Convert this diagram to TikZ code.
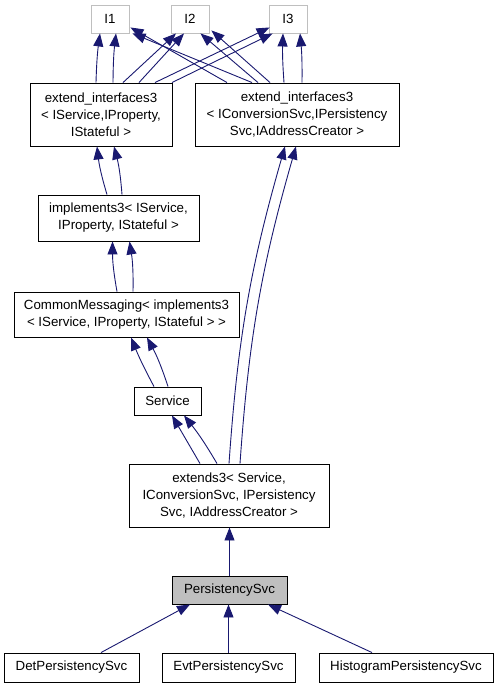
\documentclass[tikz,border=0pt]{standalone}
\usepackage{fontspec}
\setmainfont{Liberation Sans}
\usetikzlibrary{arrows.meta}
\definecolor{edgeblue}{HTML}{191970}
\definecolor{boxgray}{HTML}{BFBFBF}
\tikzset{
  classbox/.style={draw=black, line width=0.9pt, rectangle, align=center, inner sep=0pt,
    font=\fontsize{13.3}{17}\selectfont},
  ifacebox/.style={classbox, draw=boxgray},
  inherit/.style={draw=edgeblue, line width=0.9pt, -{Triangle[length=13pt,width=10pt]}}
}
\begin{document}
\begin{tikzpicture}[node distance=2cm, auto]

        % Fix the page size
        \useasboundingbox (0pt,0pt) rectangle (499pt,-688pt);

        % The documented class
        \node[classbox, fill=boxgray, minimum width=115pt, minimum height=28pt] (ps) at (229.5pt,-590pt) {PersistencySvc};

        % Derived classes
        \node[classbox, below of=ps, node distance=77.5pt, xshift=-158pt, minimum width=135pt, minimum height=29pt] (det) {DetPersistencySvc};
        \node[classbox, below of=ps, node distance=77.5pt, xshift=-1pt, minimum width=133pt, minimum height=29pt] (evt) {EvtPersistencySvc};
        \node[classbox, below of=ps, node distance=77.5pt, xshift=176.5pt, minimum width=174pt, minimum height=29pt] (hist) {HistogramPersistencySvc};

        % Base classes
        \node[classbox, above of=ps, node distance=94.5pt, xshift=-0.5pt, minimum width=200pt, minimum height=63pt] (ext3) {extends3< Service,\\IConversionSvc, IPersistency\\Svc, IAddressCreator >};
        \node[classbox, above of=ext3, node distance=94.5pt, xshift=-61.5pt, minimum width=67pt, minimum height=28pt] (svc) {Service};
        \node[classbox, above of=svc, node distance=86.5pt, xshift=-41pt, minimum width=225pt, minimum height=45pt] (cmsg) {CommonMessaging< implements3\\< IService, IProperty, IStateful > >};
        \node[classbox, above of=cmsg, node distance=96.5pt, xshift=-8pt, minimum width=161pt, minimum height=46pt] (impl) {implements3< IService,\\IProperty, IStateful >};
        \node[classbox, above of=impl, node distance=103.5pt, xshift=-17.5pt, minimum width=142pt, minimum height=63pt] (extL) {extend\_interfaces3\\< IService,IProperty,\\IStateful >};
        \node[classbox, right of=extL, node distance=196pt, minimum width=204pt, minimum height=63pt] (extR) {extend\_interfaces3\\< IConversionSvc,IPersistency\\Svc,IAddressCreator >};

        % Interfaces
        \node[ifacebox, above of=extL, node distance=95.5pt, xshift=9pt, minimum width=38pt, minimum height=28pt] (i1) {I1};
        \node[ifacebox, right of=i1, node distance=80pt, minimum width=38pt, minimum height=28pt] (i2) {I2};
        \node[ifacebox, right of=i2, node distance=98pt, minimum width=38pt, minimum height=28pt] (i3) {I3};

        % Left extend_interfaces3 to I1, I2, I3
        \draw[inherit] ([xshift=-5pt]extL.north) to[bend left=3] ([xshift=-10pt]i1.south);
        \draw[inherit] ([xshift=12pt]extL.north) to[bend left=3] ([xshift=6pt]i1.south);
        \draw[inherit] ([xshift=22pt]extL.north) -- ([xshift=-14pt]i2.south);
        \draw[inherit] ([xshift=38pt]extL.north) -- ([xshift=-6pt]i2.south);
        \draw[inherit] ([xshift=54pt]extL.north) -- ([xshift=1pt,yshift=6pt]i3.south west);
        \draw[inherit] ([xshift=71pt]extL.north) -- ([xshift=4pt]i3.south west);

        % Right extend_interfaces3 to I1, I2, I3
        \draw[inherit] ([xshift=-70pt]extR.north) -- ([xshift=1pt,yshift=6pt]i1.south east);
        \draw[inherit] ([xshift=-45pt]extR.north) -- ([xshift=3pt]i1.south east);
        \draw[inherit] ([xshift=-39pt]extR.north) -- ([xshift=-9pt]i2.south east);
        \draw[inherit] ([xshift=-27pt]extR.north) -- ([xshift=2pt,yshift=3pt]i2.south east);
        \draw[inherit] ([xshift=-13pt]extR.north) to[bend left=3] ([xshift=-5pt]i3.south);
        \draw[inherit] ([xshift=5pt]extR.north) to[bend right=3] ([xshift=12pt]i3.south);

        % implements3 chain
        \draw[inherit] ([xshift=-11.5pt]impl.north) to[bend left=5] ([xshift=-4pt]extL.south);
        \draw[inherit] ([xshift=3.5pt]impl.north) to[bend right=5] ([xshift=13pt]extL.south);
        \draw[inherit] ([xshift=-9.5pt]cmsg.north) to[bend left=5] ([xshift=-6pt]impl.south);
        \draw[inherit] ([xshift=6.5pt]cmsg.north) to[bend right=5] ([xshift=11pt]impl.south);
        \draw[inherit] ([xshift=-13.5pt]svc.north) to[bend left=3] ([xshift=4.5pt]cmsg.south);
        \draw[inherit] ([xshift=0.5pt]svc.north) to[bend right=5] ([xshift=20.5pt]cmsg.south);

        % extends3 to Service and to right extend_interfaces3
        \draw[inherit] ([xshift=-29pt]ext3.north) -- ([xshift=4.5pt]svc.south);
        \draw[inherit] ([xshift=-12pt]ext3.north) to[bend right=4] ([xshift=16.5pt]svc.south);
        \draw[inherit] (ext3.north) to[bend left=6] ([xshift=-12pt]extR.south);
        \draw[inherit] ([xshift=11pt]ext3.north) to[bend left=6] ([xshift=-1pt]extR.south);

        % PersistencySvc and its children
        \draw[inherit] (ps.north) -- (ps.north |- ext3.south);
        \draw[inherit] ([xshift=29.5pt]det.north) -- ([xshift=-39.5pt]ps.south);
        \draw[inherit] (evt.north) -- (evt.north |- ps.south);
        \draw[inherit] ([xshift=-34pt]hist.north) -- ([xshift=38.5pt]ps.south);

        \end{tikzpicture}
\end{document}
